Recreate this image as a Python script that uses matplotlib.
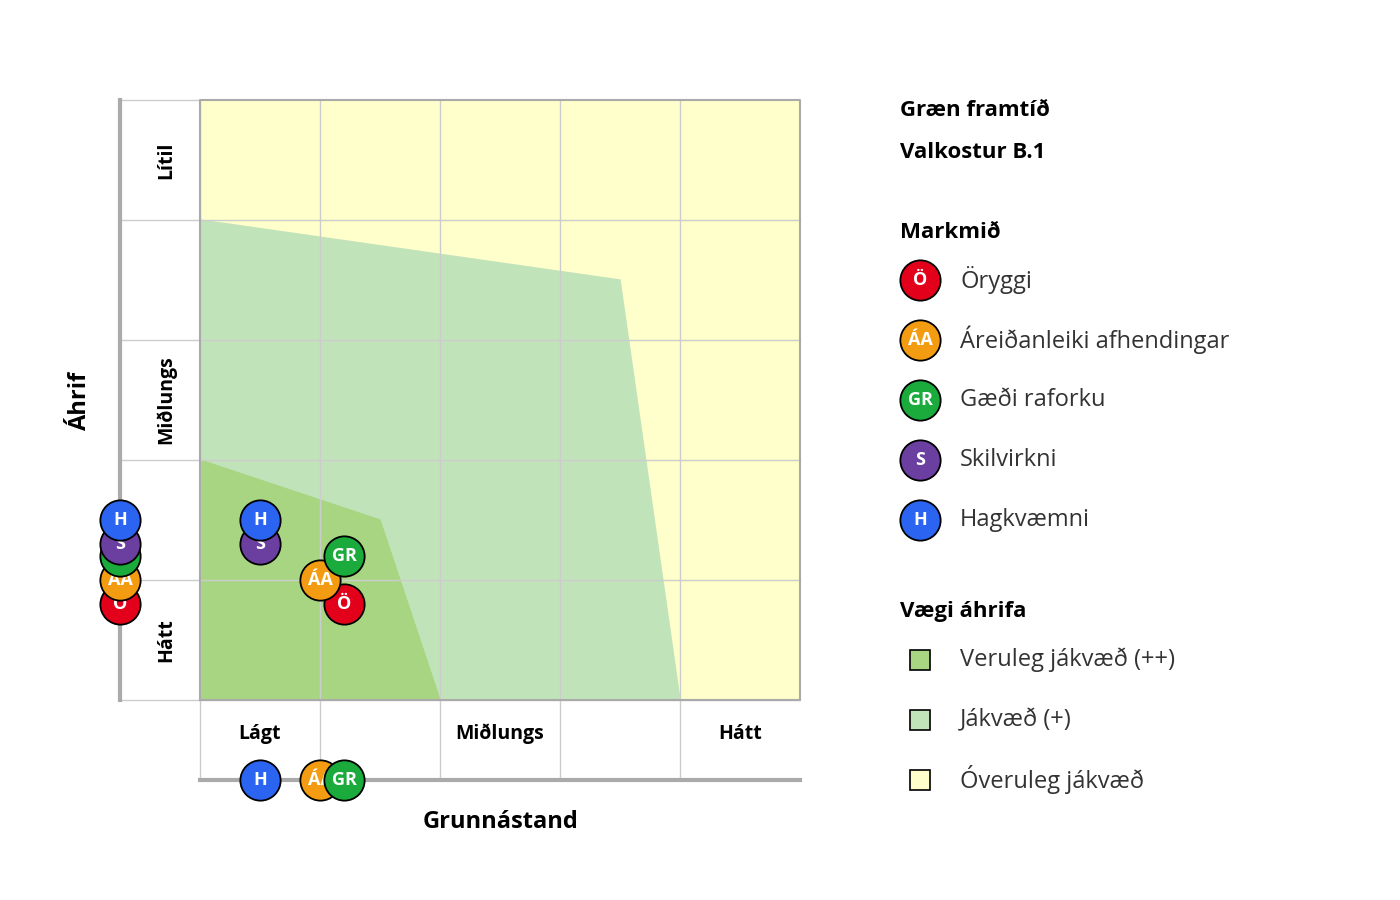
import matplotlib

matplotlib.use("Agg")
import matplotlib.pyplot as plt

plt.rcParams["font.family"] = ["Open Sans", "DejaVu Sans"]

# goal markers: key, label, colour
GOALS = ["Ö", "ÁA", "GR", "S", "H"]
GOAL_NAMES = ["Öryggi", "Áreiðanleiki afhendingar", "Gæði raforku", "Skilvirkni", "Hagkvæmni"]
GOAL_COLORS = ["#e2001a", "#f39c12", "#1aab3c", "#6b3fa0", "#2a64f0"]

# positions in grid units (0..5 on both axes)
GRID_X = [1.2, 1.0, 1.2, 0.5, 0.5]
GRID_Y = [0.8, 1.0, 1.2, 1.3, 1.5]
LEFT_Y = [0.8, 1.0, 1.2, 1.3, 1.5]
BOTTOM_GOALS = ["ÁA", "GR", "H"]
BOTTOM_X = [1.0, 1.2, 0.5]

# weight zones
LIGHT_X = [0, 3.5, 4, 0]
LIGHT_Y = [4, 3.5, 0, 0]
DARK_X = [0, 1.5, 2, 0]
DARK_Y = [2, 1.5, 0, 0]

ZONE_NAMES = ["Veruleg jákvæð (++)", "Jákvæð (+)", "Óveruleg jákvæð"]
ZONE_COLORS = ["#a8d582", "#c1e3b9", "#ffffcc"]

Y_LABELS = ["Lítil", "Miðlungs", "Hátt"]
Y_LABEL_POS = [4.5, 2.5, 0.5]
X_LABELS = ["Lágt", "Miðlungs", "Hátt"]
X_LABEL_POS = [0.5, 2.5, 4.5]

GRAY = "#aaaaaa"
STRIP = -0.667

fig = plt.figure(figsize=(14, 9), dpi=100)
ax = fig.add_axes([200 / 1400, 200 / 900, 600 / 1400, 600 / 900])
ax.set_xlim(0, 5)
ax.set_ylim(0, 5)
ax.axis("off")

ax.fill([0, 5, 5, 0], [0, 0, 5, 5], color=ZONE_COLORS[2], zorder=0)
ax.fill(LIGHT_X, LIGHT_Y, color=ZONE_COLORS[1], zorder=1)
ax.fill(DARK_X, DARK_Y, color=ZONE_COLORS[0], zorder=1)

for v in range(1, 5):
    ax.plot([-STRIP * -1 * 0 + STRIP, 5], [v, v], color="#cccccc", lw=1, clip_on=False, zorder=2)
    ax.plot([v, v], [STRIP, 5], color="#cccccc", lw=1, clip_on=False, zorder=2)
ax.plot([STRIP, 5], [0, 0], color="#cccccc", lw=1, clip_on=False, zorder=2)
ax.plot([0, 0], [STRIP, 5], color="#cccccc", lw=1, clip_on=False, zorder=2)
ax.plot([STRIP, 0], [5, 5], color="#cccccc", lw=1, clip_on=False, zorder=2)
ax.plot([0, 5, 5, 0, 0], [0, 0, 5, 5, 0], color=GRAY, lw=1.5, clip_on=False, zorder=2)
ax.plot([STRIP, STRIP], [0, 5], color=GRAY, lw=3, clip_on=False, zorder=2)
ax.plot([0, 5], [STRIP, STRIP], color=GRAY, lw=3, clip_on=False, zorder=2)

for lab, y in zip(Y_LABELS, Y_LABEL_POS):
    ax.text(-0.28, y, lab, rotation=90, ha="center", va="center", fontsize=14, fontweight="bold")
for lab, x in zip(X_LABELS, X_LABEL_POS):
    ax.text(x, -0.28, lab, ha="center", va="center", fontsize=14, fontweight="bold")
ax.text(-1.0, 2.5, "Áhrif", rotation=90, ha="center", va="center", fontsize=17, fontweight="bold")
ax.text(2.5, -1.02, "Grunnástand", ha="center", va="center", fontsize=17, fontweight="bold")


def marker(x, y, key, color, z):
    ax.plot(x, y, "o", ms=29, mfc=color, mec="black", mew=1.3, clip_on=False, zorder=z)
    ax.text(x, y, key, ha="center", va="center", color="white", fontsize=13,
            fontweight="bold", clip_on=False, zorder=z + 0.5)


for i, (key, col) in enumerate(zip(GOALS, GOAL_COLORS)):
    marker(GRID_X[i], GRID_Y[i], key, col, 5 + i)
    marker(STRIP, LEFT_Y[i], key, col, 5 + i)
for i, (key, x) in enumerate(zip(BOTTOM_GOALS, BOTTOM_X)):
    marker(x, STRIP, key, GOAL_COLORS[GOALS.index(key)], 5 + i)

# legend on the right, in pixel coordinates
def fx(px):
    return px / 1400


def fy(py):
    return 1 - py / 900


fig.text(fx(900), fy(111), "Græn framtíð", fontsize=16, fontweight="bold", va="center")
fig.text(fx(900), fy(152), "Valkostur B.1", fontsize=16, fontweight="bold", va="center")
fig.text(fx(900), fy(232), "Markmið", fontsize=16, fontweight="bold", va="center")
for i, (key, name, col) in enumerate(zip(GOALS, GOAL_NAMES, GOAL_COLORS)):
    py = 280 + 60 * i
    fig.lines.append(plt.Line2D([fx(920)], [fy(py)], marker="o", ms=29, mfc=col, mec="black",
                                mew=1.3, transform=fig.transFigure))
    fig.text(fx(920), fy(py), key, ha="center", va="center", color="white", fontsize=13,
             fontweight="bold")
    fig.text(fx(960), fy(py), name, fontsize=17, va="center", color="#333333")

fig.text(fx(900), fy(612), "Vægi áhrifa", fontsize=16, fontweight="bold", va="center")
for i, (name, col) in enumerate(zip(ZONE_NAMES, ZONE_COLORS)):
    py = 660 + 60 * i
    fig.patches.append(plt.Rectangle((fx(910), fy(py + 10)), 20 / 1400, 20 / 900, fc=col,
                                     ec="black", lw=1.2, transform=fig.transFigure))
    fig.text(fx(960), fy(py), name, fontsize=17, va="center", color="#333333")

fig.savefig("out.png", dpi=100)
